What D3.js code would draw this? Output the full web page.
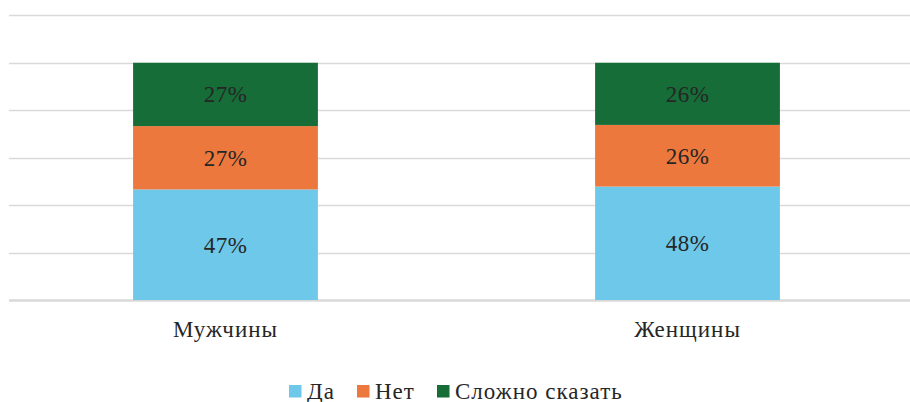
<!DOCTYPE html>
<meta charset="utf-8">
<script src="https://cdn.jsdelivr.net/npm/d3@7"></script>
<style>
body { margin: 0; background: #fff; }
svg text { fill: #262626; }
.grid line { stroke: #d9d9d9; }
</style>
<body>
<script>

var categories = ["Мужчины", "Женщины"];
var series = ["Да", "Нет", "Сложно сказать"];
var da = [46.6, 47.8];
var net = [26.7, 26.0];
var slozhno = [26.7, 26.2];
var yTicks = [0, 20, 40, 60, 80, 100, 120];
var colors = ["#6dc8ea", "#ed783d", "#166d37"];

var width = 910,
    height = 402;

var svg = d3.select("body").append("svg")
    .attr("width", width)
    .attr("height", height)
    .attr("font-family", "'Liberation Serif', 'DejaVu Serif', serif");

var x = d3.scaleBand()
    .domain(categories)
    .range([1.5, 911.5])
    .paddingInner(0.6)
    .paddingOuter(0.2848);

var y = d3.scaleLinear()
    .domain([0, 120])
    .range([300, 15.3]);

// gridlines
svg.append("g")
    .attr("class", "grid")
    .selectAll("line")
    .data(yTicks)
  .enter().append("line")
    .attr("x1", 9)
    .attr("x2", 910)
    .attr("y1", function(d) { return Math.round(y(d)) + 0.5; })
    .attr("y2", function(d) { return Math.round(y(d)) + 0.5; })
    .style("stroke-width", function(d) { return d == 0 ? 2.5 : 1.5; });

var rows = categories.map(function(c, i) {
  return {cat: c, "Да": da[i], "Нет": net[i], "Сложно сказать": slozhno[i]};
});

var stack = d3.stack().keys(series)(rows);

var layer = svg.selectAll(".layer")
    .data(stack)
  .enter().append("g")
    .attr("class", "layer")
    .attr("fill", function(d, i) { return colors[i]; });

layer.selectAll("rect")
    .data(function(d) { return d; })
  .enter().append("rect")
    .attr("x", function(d) { return x(d.data.cat); })
    .attr("width", x.bandwidth())
    .attr("y", function(d) { return y(d[1]); })
    .attr("height", function(d) { return y(d[0]) - y(d[1]); });

// value labels
layer.selectAll("text")
    .data(function(d) { return d; })
  .enter().append("text")
    .attr("x", function(d) { return x(d.data.cat) + x.bandwidth() / 2; })
    .attr("y", function(d) { return (y(d[0]) + y(d[1])) / 2; })
    .attr("dy", "0.35em")
    .attr("text-anchor", "middle")
    .attr("font-size", 23)
    .attr("letter-spacing", 0.5)
    .text(function(d) { return Math.round(d[1] - d[0]) + "%"; });

// category axis
svg.append("g")
    .selectAll("text")
    .data(categories)
  .enter().append("text")
    .attr("x", function(d) { return x(d) + x.bandwidth() / 2; })
    .attr("y", 337)
    .attr("text-anchor", "middle")
    .attr("font-size", 23)
    .attr("letter-spacing", 1)
    .text(function(d) { return d; });

// legend
var legendX = [289, 357, 437];
var legend = svg.append("g")
    .selectAll("g")
    .data(series)
  .enter().append("g")
    .attr("transform", function(d, i) { return "translate(" + legendX[i] + ",385)"; });

legend.append("rect")
    .attr("width", 12.5)
    .attr("height", 12.5)
    .attr("fill", function(d, i) { return colors[i]; });

legend.append("text")
    .attr("x", 18)
    .attr("y", 13.5)
    .attr("font-size", 23)
    .attr("letter-spacing", 1)
    .text(function(d) { return d; });

</script>
</body>
</html>
